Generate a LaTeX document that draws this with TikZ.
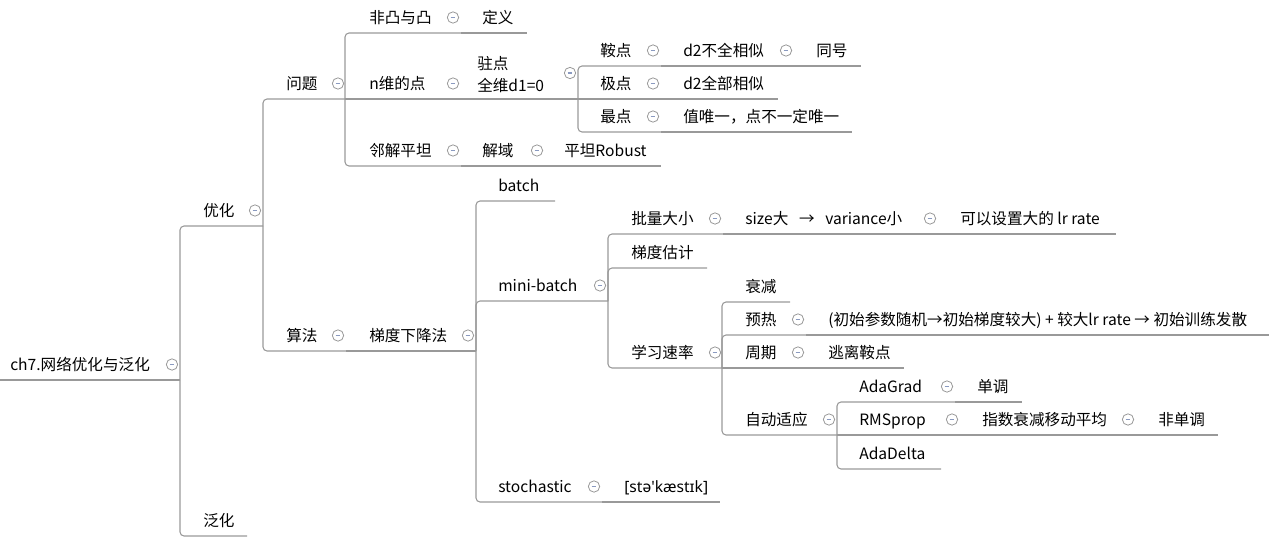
\documentclass[tikz,border=0pt]{standalone}
\usepackage{fontspec}
\setmainfont{Noto Sans CJK SC}
\newfontfamily\ipafont{Noto Sans}
\usepackage{tikz}
\usepackage{xcolor}
\definecolor{branchgray}{HTML}{999999}
\definecolor{foldblue}{HTML}{8A9AC0}

\begin{document}
\begin{tikzpicture}[x=0.75pt,y=-0.75pt,
	topic/.style={anchor=base west,inner sep=0pt,font=\fontsize{11.7pt}{14pt}\selectfont},
	fold/.style={circle,draw=branchgray,fill=white,line width=0.6pt,minimum size=8.5pt,inner sep=0pt,
		path picture={\draw[foldblue,line width=0.9pt] ([xshift=-1.8pt]path picture bounding box.center) -- ([xshift=1.8pt]path picture bounding box.center);}},
	branch/.style={draw=branchgray,line width=0.8pt,rounded corners=3pt}]
	\useasboundingbox (0,0) rectangle (1274,542);
	% root
	\node[topic] (Root) at (10,370.5) {ch7.网络优化与泛化};
	\node[fold] (RootFold) at (172,364.5) {};
	\coordinate (RootStart) at (0,380);
	\coordinate (RootEnd) at (180,380);
	\node[topic] (Optimize) at (203,216.5) {优化};
	\node[fold] (OptimizeFold) at (255,210.5) {};
	\coordinate (OptimizeEnd) at (263,226);
	\node[topic] (Generalize) at (203,526.5) {泛化};
	\coordinate (GeneralizeEnd) at (247,536);
	% problem
	\node[topic] (Problem) at (286,89.5) {问题};
	\node[fold] (ProblemFold) at (338,83.5) {};
	\coordinate (ProblemEnd) at (345,99);
	\node[topic] (Convexity) at (369,23.5) {非凸与凸};
	\node[fold] (ConvexityFold) at (453,17.5) {};
	\coordinate (ConvexityEnd) at (461,33);
	\node[topic] (ConvexDef) at (482,23.5) {定义};
	\coordinate (ConvexDefEnd) at (527,33);
	\node[topic] (NPoint) at (369,89.5) {n维的点};
	\node[fold] (NPointFold) at (453,83.5) {};
	\coordinate (NPointEnd) at (461,99);
	\node[topic,align=left,anchor=west] (Stationary) at (477,75) {驻点\\[2.5pt]全维d1=0};
	\node[fold] (StationaryFold) at (570,73) {};
	\coordinate (StationaryEnd) at (578,99);
	\node[topic] (Saddle) at (600,56.5) {鞍点};
	\node[fold] (SaddleFold) at (653,50.5) {};
	\coordinate (SaddleEnd) at (661,66);
	\node[topic] (SaddleHessian) at (683,56.5) {d2不全相似};
	\node[fold] (SaddleHessianFold) at (786,50.5) {};
	\coordinate (SaddleHessianEnd) at (794,66);
	\node[topic] (SaddleSign) at (816,56.5) {同号};
	\coordinate (SaddleSignEnd) at (861,66);
	\node[topic] (Extreme) at (600,89.5) {极点};
	\node[fold] (ExtremeFold) at (653,83.5) {};
	\coordinate (ExtremeEnd) at (661,99);
	\node[topic] (ExtremeHessian) at (683,89.5) {d2全部相似};
	\coordinate (ExtremeHessianEnd) at (778,99);
	\node[topic] (Optimum) at (600,122.5) {最点};
	\node[fold] (OptimumFold) at (653,116.5) {};
	\coordinate (OptimumEnd) at (661,132);
	\node[topic] (OptimumUnique) at (683,122.5) {值唯一，点不一定唯一};
	\coordinate (OptimumUniqueEnd) at (852,132);
	\node[topic] (FlatMinima) at (369,156.5) {邻解平坦};
	\node[fold] (FlatMinimaFold) at (453,150.5) {};
	\coordinate (FlatMinimaEnd) at (461,166);
	\node[topic] (Region) at (482,156.5) {解域};
	\node[fold] (RegionFold) at (537,150.5) {};
	\coordinate (RegionEnd) at (545,166);
	\node[topic] (FlatRobust) at (564,156.5) {平坦Robust};
	\coordinate (FlatRobustEnd) at (661,166);
	% algorithm
	\node[topic] (Algorithm) at (286,341.5) {算法};
	\node[fold] (AlgorithmFold) at (338,335.5) {};
	\coordinate (AlgorithmEnd) at (346,351);
	\node[topic] (GradDescent) at (369,341.5) {梯度下降法};
	\node[fold] (GradDescentFold) at (468,335.5) {};
	\coordinate (GradDescentEnd) at (476,351);
	\node[topic] (Batch) at (498,191.5) {batch};
	\coordinate (BatchEnd) at (555,201);
	\node[topic] (MiniBatch) at (498,291.5) {mini-batch};
	\node[fold] (MiniBatchFold) at (600,285.5) {};
	\coordinate (MiniBatchEnd) at (608,301);
	\node[topic] (Stochastic) at (498,492.5) {stochastic};
	\node[fold] (StochasticFold) at (594,486.5) {};
	\coordinate (StochasticEnd) at (602,502);
	\node[topic,font=\fontsize{11.7pt}{14pt}\ipafont] (Phonetic) at (624,492.5) {[stə'kæstɪk]};
	\coordinate (PhoneticEnd) at (720,502);
	\node[topic] (BatchSize) at (631,224.5) {批量大小};
	\node[fold] (BatchSizeFold) at (715,218.5) {};
	\coordinate (BatchSizeEnd) at (723,234);
	\node[topic] (SizeVariance) at (745,224.5) {size大\hspace{8pt}→\hspace{8pt}variance小};
	\node[fold] (SizeVarianceFold) at (930,218.5) {};
	\coordinate (SizeVarianceEnd) at (938,234);
	\node[topic] (LargeRate) at (960,224.5) {可以设置大的 lr rate};
	\coordinate (LargeRateEnd) at (1116,234);
	\node[topic] (GradEstimate) at (631,258.5) {梯度估计};
	\coordinate (GradEstimateEnd) at (707,268);
	\node[topic] (LearningRate) at (631,358.5) {学习速率};
	\node[fold] (LearningRateFold) at (715,352.5) {};
	\coordinate (LearningRateEnd) at (722,368);
	\node[topic] (Decay) at (745,292.5) {衰减};
	\coordinate (DecayEnd) at (790,302);
	\node[topic] (Warmup) at (745,325.5) {预热};
	\node[fold] (WarmupFold) at (798,319.5) {};
	\coordinate (WarmupEnd) at (806,335);
	\node[topic] (WarmupWhy) at (828,325.5) {(初始参数随机→初始梯度较大) + 较大lr rate → 初始训练发散};
	\coordinate (WarmupWhyEnd) at (1269,335);
	\node[topic] (Cyclic) at (745,358.5) {周期};
	\node[fold] (CyclicFold) at (798,352.5) {};
	\coordinate (CyclicEnd) at (806,368);
	\node[topic] (EscapeSaddle) at (828,358.5) {逃离鞍点};
	\coordinate (EscapeSaddleEnd) at (904,368);
	\node[topic] (Adaptive) at (745,425.5) {自动适应};
	\node[fold] (AdaptiveFold) at (829,419.5) {};
	\coordinate (AdaptiveEnd) at (837,435);
	\node[topic] (AdaGrad) at (859,392.5) {AdaGrad};
	\node[fold] (AdaGradFold) at (947,386.5) {};
	\coordinate (AdaGradEnd) at (955,402);
	\node[topic] (Monotone) at (977,392.5) {单调};
	\coordinate (MonotoneEnd) at (1022,402);
	\node[topic] (RMSprop) at (859,425.5) {RMSprop};
	\node[fold] (RMSpropFold) at (952,419.5) {};
	\coordinate (RMSpropEnd) at (960,435);
	\node[topic] (MovingAverage) at (982,425.5) {指数衰减移动平均};
	\node[fold] (MovingAverageFold) at (1128,419.5) {};
	\coordinate (MovingAverageEnd) at (1136,435);
	\node[topic] (NonMonotone) at (1158,425.5) {非单调};
	\coordinate (NonMonotoneEnd) at (1218,435);
	\node[topic] (AdaDelta) at (859,459.5) {AdaDelta};
	\coordinate (AdaDeltaEnd) at (941,469);
	% branches
	\draw[branch] (RootStart) -- (RootEnd);
	\draw[branch] (RootEnd) |- (OptimizeEnd);
	\draw[branch] (RootEnd) |- (GeneralizeEnd);
	\draw[branch] (OptimizeEnd) |- (ProblemEnd);
	\draw[branch] (OptimizeEnd) |- (AlgorithmEnd);
	\draw[branch] (ProblemEnd) |- (ConvexityEnd);
	\draw[branch] (ProblemEnd) -- (NPointEnd);
	\draw[branch] (ProblemEnd) |- (FlatMinimaEnd);
	\draw[branch] (ConvexityEnd) -- (ConvexDefEnd);
	\draw[branch] (NPointEnd) -- (StationaryEnd);
	\draw[branch] (StationaryEnd) |- (SaddleEnd);
	\draw[branch] (StationaryEnd) -- (ExtremeEnd);
	\draw[branch] (StationaryEnd) |- (OptimumEnd);
	\draw[branch] (SaddleEnd) -- (SaddleHessianEnd);
	\draw[branch] (SaddleHessianEnd) -- (SaddleSignEnd);
	\draw[branch] (ExtremeEnd) -- (ExtremeHessianEnd);
	\draw[branch] (OptimumEnd) -- (OptimumUniqueEnd);
	\draw[branch] (FlatMinimaEnd) -- (RegionEnd);
	\draw[branch] (RegionEnd) -- (FlatRobustEnd);
	\draw[branch] (AlgorithmEnd) -- (GradDescentEnd);
	\draw[branch] (GradDescentEnd) |- (BatchEnd);
	\draw[branch] (GradDescentEnd) |- (MiniBatchEnd);
	\draw[branch] (GradDescentEnd) |- (StochasticEnd);
	\draw[branch] (StochasticEnd) -- (PhoneticEnd);
	\draw[branch] (MiniBatchEnd) |- (BatchSizeEnd);
	\draw[branch] (MiniBatchEnd) |- (GradEstimateEnd);
	\draw[branch] (MiniBatchEnd) |- (LearningRateEnd);
	\draw[branch] (BatchSizeEnd) -- (SizeVarianceEnd);
	\draw[branch] (SizeVarianceEnd) -- (LargeRateEnd);
	\draw[branch] (LearningRateEnd) |- (DecayEnd);
	\draw[branch] (LearningRateEnd) |- (WarmupEnd);
	\draw[branch] (LearningRateEnd) -- (CyclicEnd);
	\draw[branch] (LearningRateEnd) |- (AdaptiveEnd);
	\draw[branch] (WarmupEnd) -- (WarmupWhyEnd);
	\draw[branch] (CyclicEnd) -- (EscapeSaddleEnd);
	\draw[branch] (AdaptiveEnd) |- (AdaGradEnd);
	\draw[branch] (AdaptiveEnd) -- (RMSpropEnd);
	\draw[branch] (AdaptiveEnd) |- (AdaDeltaEnd);
	\draw[branch] (AdaGradEnd) -- (MonotoneEnd);
	\draw[branch] (RMSpropEnd) -- (MovingAverageEnd);
	\draw[branch] (MovingAverageEnd) -- (NonMonotoneEnd);
\end{tikzpicture}
\end{document}
